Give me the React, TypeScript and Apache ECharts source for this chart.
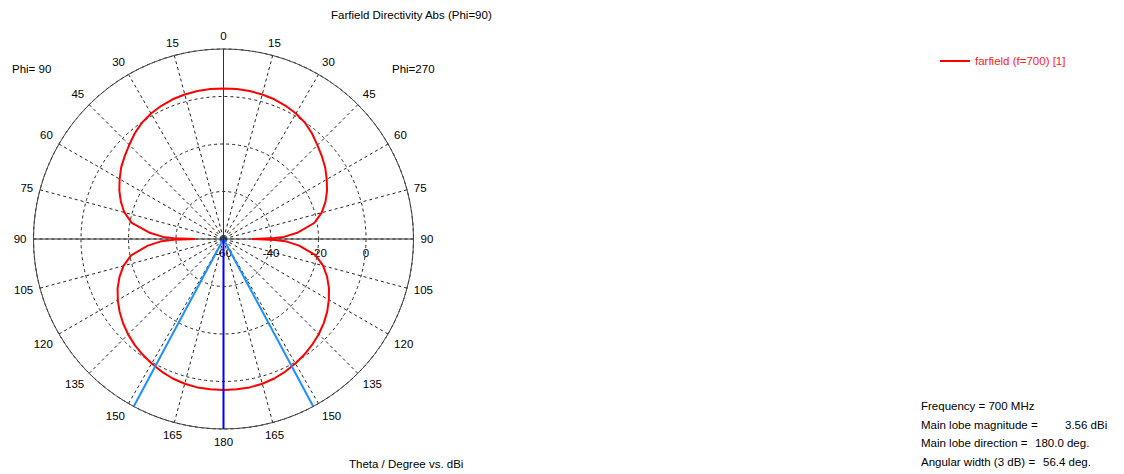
import React, { useEffect, useRef } from "react";
import * as echarts from "echarts";

// ---- data ----
const thetaDeg = [0, 5, 10, 15, 20, 25, 30, 35, 40, 45, 50, 55, 60, 65, 70, 75, 80, 85, 88, 89, 90, 91, 92, 95, 100, 105, 110, 115, 120, 125, 130, 135, 140, 145, 150, 155, 160, 165, 170, 175, 180];
// Phi = 90 cut (left half of the plot), dBi
const dbPhi90 = [3.4, 3.4, 3.3, 3.0, 2.6, 1.9, 1.0, -0.2, -1.9, -3.9, -5.7, -7.4, -9.5, -11.6, -14.0, -16.8, -20.8, -28.5, -34.5, -39.0, -48.0, -39.0, -34.0, -28.0, -20.5, -16.4, -13.4, -10.8, -8.6, -6.6, -4.8, -3.2, -1.8, -0.6, 0.5, 1.6, 2.5, 3.1, 3.45, 3.54, 3.56];
// Phi = 270 cut (right half of the plot), dBi
const dbPhi270 = [3.4, 3.4, 3.3, 3.0, 2.6, 1.9, 1.0, -0.2, -2.0, -4.1, -5.9, -7.7, -9.8, -11.9, -14.3, -17.2, -21.2, -28.5, -34.5, -38.5, -48.0, -38.5, -34.0, -28.0, -20.7, -16.6, -13.6, -11.0, -8.8, -6.7, -4.9, -3.3, -1.9, -0.6, 0.5, 1.6, 2.5, 3.1, 3.45, 3.54, 3.56];

const radiusMin = -60;
const radiusMax = 20;
const radiusStep = 20;
const angleStep = 15;

const frequencyMHz = 700;
const mainLobeMagnitude = 3.56;
const mainLobeDirection = 180.0;
const angularWidth3dB = 56.4;

const seriesName = `farfield (f=${frequencyMHz}) [1]`;
const titleText = "Farfield Directivity Abs (Phi=90)";
const axisTitle = "Theta / Degree vs. dBi";

const FONT = "Liberation Sans, Arial, sans-serif";
const FS = 11.5;

// theta on the left half (phi=90) runs counter-clockwise from the top,
// on the right half (phi=270) clockwise from the top. Axis angle 0 = right.
const leftAngle = (t: number) => (90 + t) % 360;
const rightAngle = (t: number) => (450 - t) % 360;

export default function App() {
  const ref = useRef<HTMLDivElement>(null);

  useEffect(() => {
    document.body.style.margin = "0";
    if (!ref.current) return;
    const chart = echarts.init(ref.current, undefined, { renderer: "svg" });

    const pattern: number[][] = [];
    thetaDeg.forEach((t, i) => pattern.push([dbPhi90[i], leftAngle(t)]));
    for (let i = thetaDeg.length - 1; i >= 0; i--) {
      pattern.push([dbPhi270[i], rightAngle(thetaDeg[i])]);
    }

    const mainA = leftAngle(mainLobeDirection);
    const halfW = angularWidth3dB / 2;
    const edgeL = leftAngle(mainLobeDirection - halfW);
    const edgeR = rightAngle(mainLobeDirection - halfW);

    const lineBase = {
      type: "line",
      coordinateSystem: "polar",
      symbol: "none",
      silent: true,
      animation: false,
    };

    const txt = (text: string, left: number, top: number) => ({
      type: "text",
      left,
      top,
      style: { text, font: `${FS}px ${FONT}`, fill: "#000" },
    });

    const option: any = {
      animation: false,
      textStyle: { fontFamily: FONT, fontSize: FS, color: "#000" },
      title: {
        text: titleText,
        left: 326,
        top: 4,
        textStyle: { fontFamily: FONT, fontSize: FS, fontWeight: "normal", color: "#000" },
      },
      legend: {
        data: [seriesName],
        left: 935,
        top: 50,
        icon: "rect",
        itemWidth: 30,
        itemHeight: 2,
        textStyle: { fontFamily: FONT, fontSize: FS, color: "#ff2020" },
      },
      polar: { center: [223.5, 239], radius: 190 },
      angleAxis: {
        type: "value",
        min: 0,
        max: 360,
        interval: angleStep,
        startAngle: 0,
        clockwise: false,
        axisLine: { show: true, lineStyle: { color: "#444", width: 1 } },
        axisTick: { show: false },
        axisLabel: {
          margin: 7,
          color: "#000",
          fontFamily: FONT,
          fontSize: FS,
          formatter: (v: number) => {
            if (v >= 360) return "";
            if (v >= 90 && v <= 270) return String(v - 90);
            if (v < 90) return String(90 - v);
            return String(450 - v);
          },
        },
        splitLine: { show: true, lineStyle: { color: "#222", width: 1, type: [3, 3] } },
      },
      radiusAxis: {
        type: "value",
        min: radiusMin,
        max: radiusMax,
        interval: radiusStep,
        axisLine: { show: false },
        axisTick: { show: false },
        axisLabel: {
          color: "#000",
          fontFamily: FONT,
          fontSize: FS,
          margin: -8,
          verticalAlign: "top",
          align: "center",
          formatter: (v: number) => (v >= radiusMax ? "" : String(v)),
        },
        splitLine: { show: true, lineStyle: { color: "#222", width: 1, type: [3, 3] } },
      },
      graphic: [
        txt("Phi= 90", 12, 63),
        txt("Phi=270", 392, 63),
        txt(axisTitle, 349, 458),
        txt(`Frequency = ${frequencyMHz} MHz`, 921, 400),
        txt("Main lobe magnitude =", 921, 419),
        txt(`${mainLobeMagnitude.toFixed(2)} dBi`, 1065, 419),
        txt("Main lobe direction =", 921, 437),
        txt(`${mainLobeDirection.toFixed(1)} deg.`, 1035, 437),
        txt("Angular width (3 dB) =", 921, 456),
        txt(`${angularWidth3dB.toFixed(1)} deg.`, 1043, 456),
      ],
      series: [
        {
          ...lineBase,
          name: "axes-h",
          data: [[radiusMax, 0], [radiusMin, 0], [radiusMax, 180]],
          lineStyle: { color: "#333", width: 1 },
          z: 2,
        },
        {
          ...lineBase,
          name: "axes-v",
          data: [[radiusMax, 90], [radiusMin, 90], [radiusMax, 270]],
          lineStyle: { color: "#333", width: 1 },
          z: 2,
        },
        {
          ...lineBase,
          name: seriesName,
          data: pattern,
          lineStyle: { color: "#ff0000", width: 2 },
          itemStyle: { color: "#ff0000" },
          z: 3,
        },
        {
          ...lineBase,
          name: "3dB-left",
          data: [[radiusMin, edgeL], [radiusMax, edgeL]],
          lineStyle: { color: "#1e8fff", width: 2 },
          z: 4,
        },
        {
          ...lineBase,
          name: "3dB-right",
          data: [[radiusMin, edgeR], [radiusMax, edgeR]],
          lineStyle: { color: "#1e8fff", width: 2 },
          z: 4,
        },
        {
          ...lineBase,
          name: "main-lobe",
          data: [[radiusMin, mainA], [radiusMax, mainA]],
          lineStyle: { color: "#0000ff", width: 2 },
          z: 4,
        },
      ],
    };

    chart.setOption(option);
    return () => chart.dispose();
  }, []);

  return <div ref={ref} style={{ width: 1124, height: 474 }} />;
}
